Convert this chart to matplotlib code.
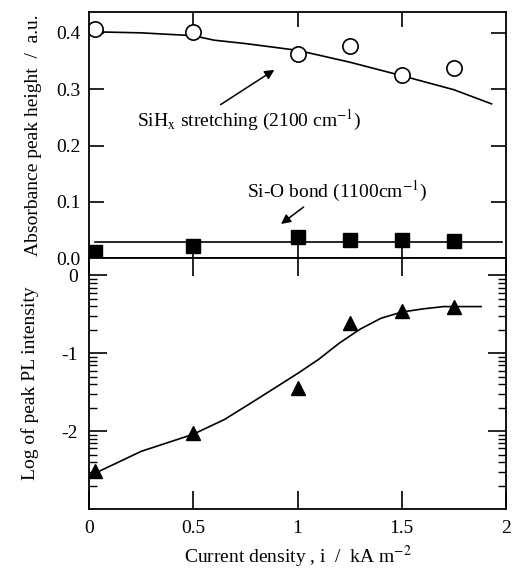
import matplotlib.pyplot as plt
import numpy as np

plt.rcParams['font.family'] = ['Liberation Serif', 'DejaVu Serif']
plt.rcParams['mathtext.fontset'] = 'stix'

# Data
current = [0.03, 0.5, 1.0, 1.25, 1.5, 1.75]
sih_points = [0.407, 0.401, 0.363, 0.376, 0.325, 0.338]
sio_points = [0.012, 0.021, 0.037, 0.032, 0.032, 0.031]
pl_points = [-2.51, -2.02, -1.45, -0.61, -0.46, -0.40]

sih_fit_x = [0.0, 0.25, 0.5, 0.6, 0.75, 1.0, 1.25, 1.5, 1.75, 1.93]
sih_fit_y = [0.402, 0.400, 0.395, 0.387, 0.381, 0.369, 0.348, 0.324, 0.299, 0.274]
sio_fit_x = [0.03, 1.98]
sio_fit_y = [0.029, 0.029]
pl_fit_x = [0.03, 0.25, 0.5, 0.65, 0.8, 0.9, 1.0, 1.1, 1.2, 1.3, 1.4, 1.5, 1.6, 1.7, 1.88]
pl_fit_y = [-2.54, -2.26, -2.04, -1.85, -1.60, -1.43, -1.26, -1.08, -0.87, -0.69, -0.55, -0.47,
            -0.43, -0.40, -0.40]

fig = plt.figure(figsize=(5.17, 5.71), dpi=100)
ax1 = fig.add_axes([0.172, 0.5476, 0.807, 0.4314])
ax2 = fig.add_axes([0.172, 0.1086, 0.807, 0.439])

# Top panel: absorbance
ax1.plot(sih_fit_x, sih_fit_y, color='black', lw=1.2)
ax1.plot(sio_fit_x, sio_fit_y, color='black', lw=1.2)
ax1.plot(current, sih_points, 'o', mfc='white', mec='black', ms=11, mew=1.2)
ax1.plot(current, sio_points, 's', color='black', ms=10)
ax1.set_xlim(0, 2)
ax1.set_ylim(0, 0.437)
ax1.set_yticks([0.0, 0.1, 0.2, 0.3, 0.4])
ax1.set_yticklabels(['0.0', '0.1', '0.2', '0.3', '0.4'])
ax1.set_xticks([0.5, 1.0, 1.5])
ax1.tick_params(axis='both', direction='in', top=True, right=True, labelbottom=False,
                labelsize=14, length=11, width=1.2, pad=6)
ax1.set_ylabel('Absorbance peak height  /  a.u.', fontsize=14, labelpad=10)

ax1.annotate('', xy=(0.90, 0.337), xytext=(0.62, 0.27),
             arrowprops=dict(arrowstyle='-|>', color='black', lw=1.1, mutation_scale=14))
ax1.text(0.23, 0.245, r'SiH$_\mathrm{x}$ stretching (2100 cm$^{\mathrm{-1}}$)', fontsize=14,
         va='center')
ax1.annotate('', xy=(0.91, 0.058), xytext=(1.04, 0.094),
             arrowprops=dict(arrowstyle='-|>', color='black', lw=1.1, mutation_scale=14))
ax1.text(0.76, 0.118, r'Si-O bond (1100cm$^{\mathrm{-1}}$)', fontsize=14, va='center')

# Bottom panel: PL intensity
ax2.plot(pl_fit_x, pl_fit_y, color='black', lw=1.2)
ax2.plot(current, pl_points, '^', color='black', ms=10)
ax2.set_xlim(0, 2)
ax2.set_ylim(-3, 0.22)
ax2.set_xticks([0, 0.5, 1, 1.5, 2])
ax2.set_xticklabels(['0', '0.5', '1', '1.5', '2'])
ax2.set_yticks([0, -1, -2])
ax2.set_yticklabels(['0', '-1', '-2'])
minor = [n - 1 + np.log10(k) for n in [0, -1, -2] for k in range(2, 10)]
ax2.set_yticks(minor, minor=True)
ax2.tick_params(axis='both', which='major', direction='in', top=True, right=True,
                labelsize=14, length=13, width=1.2, pad=8)
ax2.tick_params(axis='y', which='minor', direction='in', left=True, right=True,
                length=6, width=1.0)
ax2.set_ylabel('Log of peak PL intensity', fontsize=14, labelpad=16)
ax2.set_xlabel(r'Current density , i  /  kA m$^{\mathrm{-2}}$', fontsize=14, labelpad=5)

for ax in (ax1, ax2):
    for s in ax.spines.values():
        s.set_linewidth(1.3)

fig.savefig('out.png', dpi=100)
